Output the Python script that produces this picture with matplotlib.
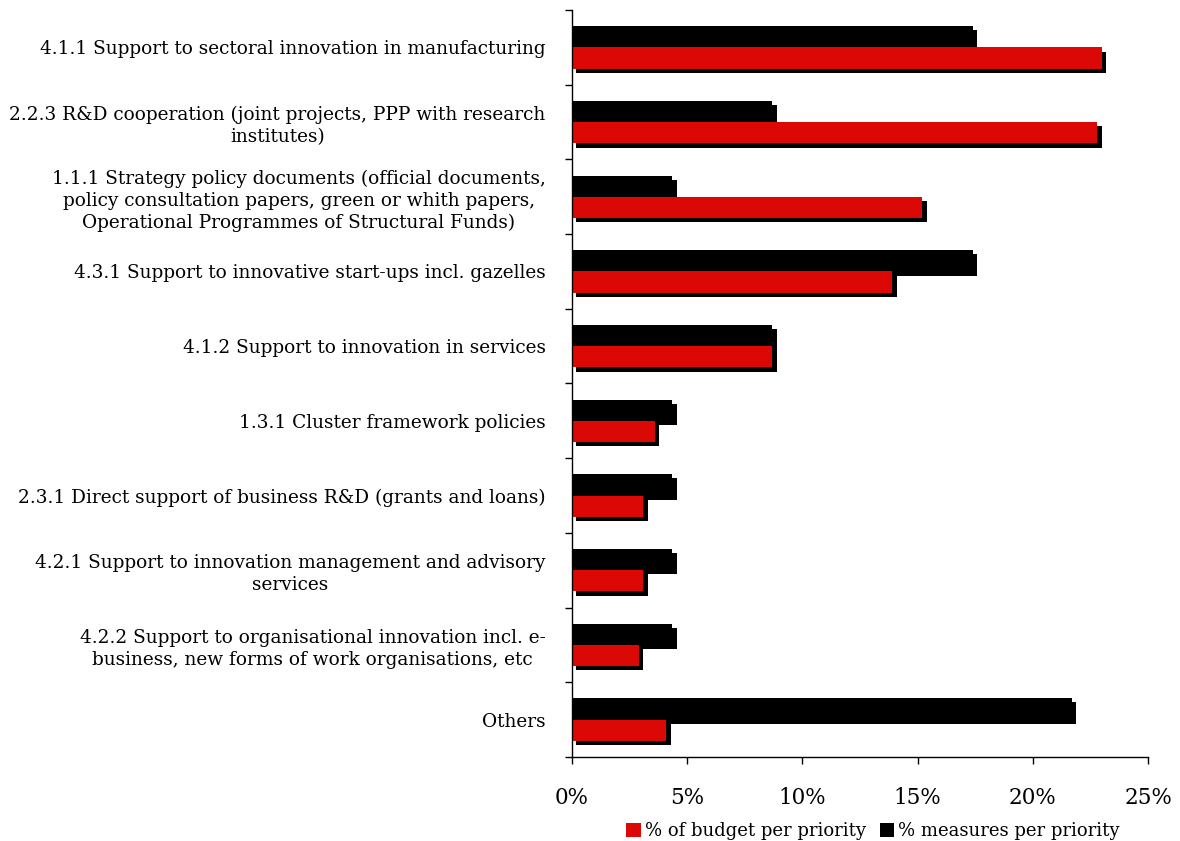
import matplotlib.pyplot as plt
import matplotlib.patheffects as pe
import numpy as np
from matplotlib.patches import Patch
from matplotlib.ticker import FuncFormatter, FixedLocator

plt.rcParams['font.family'] = ['DejaVu Serif']

categories = [
    "4.1.1 Support to sectoral innovation in manufacturing",
    "2.2.3 R&D cooperation (joint projects, PPP with research\ninstitutes)",
    "1.1.1 Strategy policy documents (official documents,\npolicy consultation papers, green or whith papers,\nOperational Programmes of Structural Funds)",
    "4.3.1 Support to innovative start-ups incl. gazelles",
    "4.1.2 Support to innovation in services",
    "1.3.1 Cluster framework policies",
    "2.3.1 Direct support of business R&D (grants and loans)",
    "4.2.1 Support to innovation management and advisory\nservices",
    "4.2.2 Support to organisational innovation incl. e-\nbusiness, new forms of work organisations, etc",
    "Others",
]
budget = [23.0, 22.8, 15.2, 13.9, 8.7, 3.6, 3.1, 3.1, 2.9, 4.1]
measures = [17.4, 8.7, 4.35, 17.4, 8.7, 4.35, 4.35, 4.35, 4.35, 21.7]
xticks = [0, 5, 10, 15, 20, 25]

red = '#dc0806'

fig = plt.figure(figsize=(11.8, 8.41), dpi=100)
ax = fig.add_axes([0.4847, 0.1, 0.4882, 0.888])

y = np.arange(len(categories))
h = 0.285
shadow = [pe.SimplePatchShadow(offset=(3.2, -3.0), shadow_rgbFace='black', alpha=1.0),
          pe.Normal()]

bm = ax.barh(y - h / 2, measures, height=h, color='black', linewidth=0)
bb = ax.barh(y + h / 2, budget, height=h, color=red, linewidth=0)
for p in list(bm) + list(bb):
    p.set_path_effects(shadow)

ax.set_ylim(len(categories) - 0.5, -0.5)
ax.set_xlim(0, 25)
ax.set_xticks(xticks)
ax.xaxis.set_major_formatter(FuncFormatter(lambda v, _: f"{v:.0f}%"))
ax.tick_params(axis='x', labelsize=15.5, length=5, width=1, direction='out', pad=17)

ax.set_yticks(y)
ax.set_yticklabels(categories, fontsize=13.3, multialignment='center', linespacing=1.3)
ax.yaxis.set_minor_locator(FixedLocator(np.arange(-0.5, len(categories), 1.0)))
ax.tick_params(axis='y', which='major', length=0, pad=19)
ax.tick_params(axis='y', which='minor', length=5, width=1, direction='out')

for s in ['top', 'right']:
    ax.spines[s].set_visible(False)
for s in ['left', 'bottom']:
    ax.spines[s].set_color('black')
    ax.spines[s].set_linewidth(1)

handles = [Patch(facecolor=red, label='% of budget per priority'),
           Patch(facecolor='black', label='% measures per priority')]
fig.legend(handles=handles, loc='center', bbox_to_anchor=(873 / 1180, 1 - 831 / 841),
           ncol=2, frameon=False, fontsize=13, handlelength=0.8, handleheight=0.8,
           handletextpad=0.2, columnspacing=0.8, borderpad=0.1)

fig.savefig('out.png', dpi=100)
